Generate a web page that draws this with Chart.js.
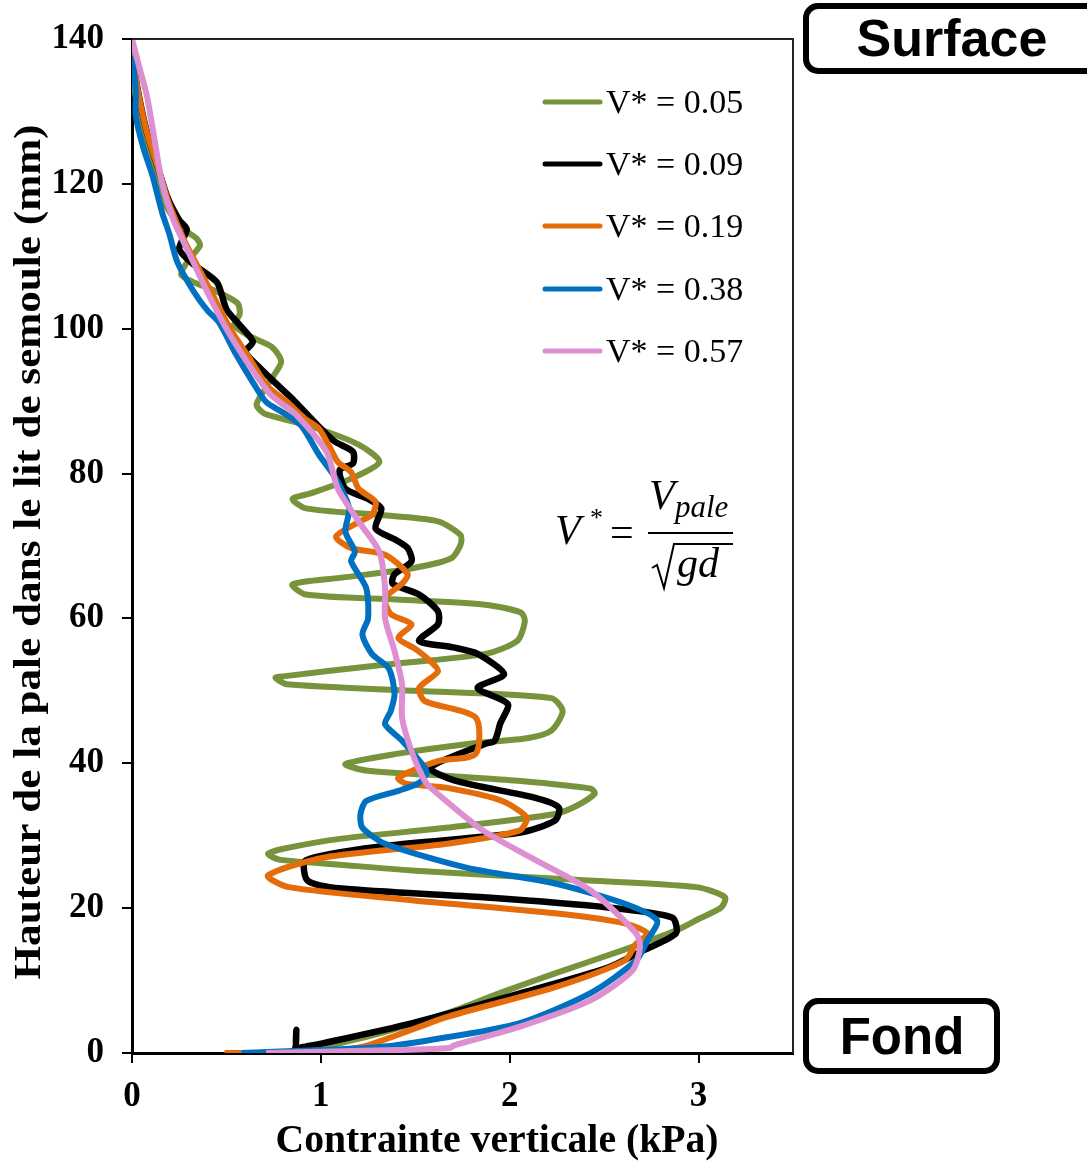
<!DOCTYPE html>
<html>
<head>
<meta charset="utf-8">
<script src="https://cdn.jsdelivr.net/npm/chart.js@4.4.1/dist/chart.umd.min.js"></script>
<style>
  html, body { margin: 0; padding: 0; background: #ffffff; }
  #wrap { width: 1087px; height: 1165px; position: relative; }
</style>
</head>
<body>
<div id="wrap"><canvas id="chart" width="1087" height="1165"></canvas></div>
<script>
// ---------- Data ----------
const seriesLabels = ['V* = 0.05', 'V* = 0.09', 'V* = 0.19', 'V* = 0.38', 'V* = 0.57'];
const xTickValues = [0, 1, 2, 3];
const yTickValues = [0, 20, 40, 60, 80, 100, 120, 140];

// V* = 0.05 : vertical stress (kPa) and blade height (mm), in path order
const stress005 = [0.00,0.02,0.06,0.12,0.18,0.26,0.34,0.36,0.30,0.26,0.32,0.46,0.56,0.57,0.54,0.62,0.74,0.79,0.75,0.70,0.66,0.70,0.95,1.20,1.31,1.16,0.95,0.85,0.92,1.30,1.62,1.74,1.74,1.69,1.48,1.10,0.85,0.92,1.40,1.87,2.06,2.08,2.04,1.87,1.30,0.80,0.76,0.82,1.50,2.22,2.28,2.22,2.10,1.79,1.40,1.13,1.24,1.70,2.04,2.43,2.45,2.36,2.24,1.70,1.11,0.80,0.72,0.78,1.10,1.48,2.30,2.99,3.14,3.12,3.00,2.88,2.60,2.24,1.95,1.67,1.35,1.11,0.95,0.90];
const height005 = [135.5,132,127,122,117,114,112.5,111.5,109.5,107.5,106.5,105,103.5,102,100.5,99,97.5,95.5,93.5,91.5,89.5,88.3,86.5,84,81.6,79.3,77.3,76.5,75.2,74.3,73.4,71.5,70.2,68.3,66.9,65.6,64.7,63.3,62.6,61.9,60.8,59.6,56.9,55.1,53.5,52.0,51.8,50.9,50.0,49.0,47.2,44.5,43.5,42.7,41.3,39.9,39.0,38.2,37.6,36.5,35.8,34.2,33.0,31.2,29.6,28.2,27.5,26.7,26.0,25.2,24.0,22.9,21.5,20.1,18.5,16.9,14.2,11.0,8.3,5.5,3.0,1.4,0.4,0];

// V* = 0.09
const stress009 = [0.00,0.03,0.08,0.14,0.19,0.25,0.29,0.25,0.32,0.45,0.50,0.57,0.64,0.60,0.68,0.78,0.85,0.97,1.07,1.17,1.17,1.10,1.13,1.25,1.32,1.29,1.40,1.46,1.48,1.39,1.38,1.52,1.62,1.62,1.52,1.70,1.83,1.97,1.83,1.99,1.95,1.92,1.87,1.58,1.71,2.14,2.26,2.24,2.05,1.34,0.92,0.93,1.11,1.86,2.52,2.86,2.88,2.71,2.52,2.05,1.48,1.02,0.90,0.87,0.87,0.86,0.77];
const height009 = [138,133,127,122,118,115,113.7,111,109,106.4,102.7,100.5,98.2,96.8,94.5,92,90.3,87,84.5,83.0,81.4,80.5,77.9,76.5,75.2,72.4,70.8,69.7,67.9,66.1,64.8,63.3,61.0,59.2,56.9,56.0,55.1,52.3,50.4,48.2,45.5,43.1,42.7,39.4,37.6,35.2,33.9,32.1,30.4,28.6,26.6,23.8,22.7,21.5,20.1,18.7,16.5,14.2,11.8,8.2,4.1,1.4,0.8,0.6,3.2,0.4,0];

// V* = 0.19
const stress019 = [0.00,0.03,0.08,0.14,0.20,0.28,0.36,0.44,0.52,0.62,0.72,0.82,0.92,0.99,1.05,1.09,1.16,1.20,1.29,1.27,1.20,1.08,1.16,1.34,1.46,1.43,1.34,1.37,1.48,1.41,1.50,1.58,1.62,1.52,1.55,1.82,1.82,1.62,1.41,1.45,1.67,1.96,2.09,2.05,1.67,1.02,0.72,0.83,1.48,2.24,2.61,2.73,2.67,2.61,2.24,1.67,1.21,0.90,0.49];
const height019 = [138.5,133,127,122,117,112,108,104,100,96,92,89.9,87.5,86.2,83.5,81.6,80.2,77.9,76.1,74.3,73.3,71.3,69.7,68.8,66.1,64.8,62.8,60.6,59.2,57.3,55.8,54.1,52.7,50.4,48.6,46.3,41.3,40.3,38.0,37.2,36.6,34.8,32.5,30.7,28.9,27.0,24.5,22.9,21.1,19.3,17.9,16.5,15.1,12.8,9.1,5.0,0.8,0.1,0];

// V* = 0.38
const stress038 = [0.00,0.02,0.02,0.06,0.11,0.16,0.20,0.24,0.33,0.40,0.46,0.55,0.64,0.71,0.82,0.90,0.99,1.08,1.15,1.13,1.18,1.16,1.24,1.25,1.22,1.27,1.36,1.39,1.37,1.34,1.43,1.55,1.56,1.52,1.41,1.24,1.21,1.22,1.34,1.77,2.24,2.61,2.78,2.73,2.67,2.43,2.05,1.58,1.30,0.58];
const height038 = [137.7,133,129.4,125,121,116,112.9,109.2,105,102.5,100.9,96.5,92.6,89.9,88.1,86.5,82.6,79.3,75.2,72.0,69.2,67.9,64.2,60.0,57.8,55.1,53.1,49.6,47.2,45.4,43.1,39.4,38.6,37.3,36.2,34.8,33.0,31.1,28.9,25.6,23.4,20.6,18.3,15.6,12.8,8.3,4.1,1.8,0.8,0];

// V* = 0.57
const stress057 = [0.00,0.04,0.08,0.12,0.16,0.22,0.31,0.40,0.50,0.62,0.73,0.78,0.87,1.03,1.09,1.20,1.31,1.34,1.34,1.39,1.43,1.43,1.48,1.55,1.60,1.86,2.14,2.43,2.67,2.69,2.65,2.43,2.05,1.71,1.68,1.40,0.71];
const height057 = [140,136,132,126,120,115,110,105,100,95,91,89.9,88.1,83.0,77.9,73.4,69.2,64.2,60.0,55.5,50.9,46.3,41.7,37.6,36.2,30.7,26.6,22.4,16.5,14.6,11.4,7.3,3.6,1.1,0.7,0.4,0];

const seriesColors = ['#77933C', '#000000', '#E46C0A', '#0070C0', '#DD8FD1'];

// ---------- Build datasets ----------
function pts(xs, ys) { return xs.map((x, i) => ({ x: x, y: ys[i] })); }
const allStress = [stress005, stress009, stress019, stress038, stress057];
const allHeight = [height005, height009, height019, height038, height057];

const datasets = seriesLabels.map((lab, i) => ({
  label: lab,
  data: pts(allStress[i], allHeight[i]),
  borderColor: seriesColors[i],
  backgroundColor: seriesColors[i],
  borderWidth: i === 1 ? 6.5 : 6,
  showLine: true,
  pointRadius: 0,
  tension: 0.25,
  fill: false,
  order: 5 - i
}));

// ---------- Decorations plugin ----------
const decor = {
  id: 'decor',
  afterDatasetsDraw(chart) {
    const ctx = chart.ctx;
    const a = chart.chartArea;
    ctx.save();
    // plot frame (top and right)
    ctx.strokeStyle = '#222';
    ctx.lineWidth = 2;
    ctx.beginPath();
    ctx.moveTo(a.left, a.top);
    ctx.lineTo(a.right, a.top);
    ctx.lineTo(a.right, a.bottom);
    ctx.stroke();

    // legend
    const legY = [102, 164, 226, 289, 351];
    chart.data.datasets.forEach((ds, i) => {
      ctx.strokeStyle = ds.borderColor;
      ctx.lineWidth = 5;
      ctx.lineCap = 'round';
      ctx.beginPath();
      ctx.moveTo(545, legY[i]);
      ctx.lineTo(600, legY[i]);
      ctx.stroke();
      ctx.fillStyle = '#000';
      ctx.font = '34px "Liberation Serif", "Times New Roman", serif';
      ctx.textAlign = 'left';
      ctx.textBaseline = 'middle';
      ctx.fillText(ds.label, 606, legY[i] + 2);
    });
    ctx.restore();
  },
  afterDraw(chart) {
    const ctx = chart.ctx;
    ctx.save();
    ctx.fillStyle = '#000';
    // y axis title
    ctx.save();
    ctx.translate(30, 552);
    ctx.rotate(-Math.PI / 2);
    ctx.font = 'bold 38px "Liberation Serif", "Times New Roman", serif';
    const yt = 'Hauteur de la pale dans le lit de semoule (mm)';
    const yw = ctx.measureText(yt).width;
    ctx.scale(855 / yw, 1);
    ctx.textAlign = 'center';
    ctx.textBaseline = 'middle';
    ctx.fillText(yt, 0, 0);
    ctx.restore();

    // x axis title
    ctx.save();
    ctx.translate(497, 1142);
    ctx.font = 'bold 40px "Liberation Serif", "Times New Roman", serif';
    const xt = 'Contrainte verticale (kPa)';
    const xw = ctx.measureText(xt).width;
    ctx.scale(443 / xw, 1);
    ctx.textAlign = 'center';
    ctx.textBaseline = 'middle';
    ctx.fillText(xt, 0, 0);
    ctx.restore();

    // formula V* = V_pale / sqrt(gd)
    ctx.textAlign = 'left';
    ctx.textBaseline = 'alphabetic';
    ctx.font = 'italic 42px "Liberation Serif", "Times New Roman", serif';
    ctx.fillText('V', 555, 544);
    ctx.font = '26px "Liberation Serif", serif';
    ctx.fillText('*', 590, 526);
    ctx.font = '42px "Liberation Serif", serif';
    ctx.fillText('=', 610, 546);
    ctx.font = 'italic 42px "Liberation Serif", serif';
    ctx.fillText('V', 649, 509);
    ctx.font = 'italic 31px "Liberation Serif", serif';
    ctx.fillText('pale', 675, 517);
    ctx.strokeStyle = '#000';
    ctx.lineWidth = 2;
    ctx.beginPath();
    ctx.moveTo(648, 533); ctx.lineTo(733, 533);
    ctx.stroke();
    // square root sign
    ctx.lineWidth = 2;
    ctx.beginPath();
    ctx.moveTo(652, 568);
    ctx.lineTo(657, 565);
    ctx.lineTo(664, 588);
    ctx.lineTo(674, 544);
    ctx.lineTo(733, 544);
    ctx.stroke();
    ctx.font = 'italic 42px "Liberation Serif", serif';
    ctx.fillText('gd', 677, 577);

    // "Surface" box
    ctx.lineWidth = 6;
    ctx.strokeStyle = '#000';
    ctx.beginPath();
    ctx.roundRect(806, 6, 300, 65, 12);
    ctx.stroke();
    ctx.font = 'bold 52px "Liberation Sans", Arial, sans-serif';
    ctx.textAlign = 'center';
    ctx.textBaseline = 'middle';
    ctx.fillText('Surface', 952, 42);

    // "Fond" box
    ctx.beginPath();
    ctx.roundRect(806, 1001, 191, 70, 12);
    ctx.stroke();
    ctx.font = 'bold 51px "Liberation Sans", Arial, sans-serif';
    ctx.fillText('Fond', 902, 1040);
    ctx.restore();
  }
};

new Chart(document.getElementById('chart'), {
  type: 'scatter',
  data: { datasets: datasets },
  plugins: [decor],
  options: {
    responsive: false,
    animation: false,
    events: [],
    layout: { padding: { left: 0, top: 36, right: 294, bottom: 0 } },
    plugins: {
      legend: { display: false },
      tooltip: { enabled: false },
      title: { display: false }
    },
    scales: {
      x: {
        type: 'linear',
        position: 'bottom',
        min: 0,
        max: 3.5,
        afterFit(scale) { scale.height = 112; },
        afterBuildTicks(scale) { scale.ticks = xTickValues.map(v => ({ value: v })); },
        ticks: {
          color: '#000',
          padding: 13,
          font: { family: '"Liberation Serif", "Times New Roman", serif', size: 35, weight: 'bold' },
          callback: v => String(v)
        },
        grid: { display: true, drawOnChartArea: false, drawTicks: true, tickLength: 10, color: '#000', lineWidth: 2 },
        border: { display: true, color: '#000', width: 3 }
      },
      y: {
        type: 'linear',
        min: 0,
        max: 140,
        afterFit(scale) { scale.width = 132; },
        afterBuildTicks(scale) { scale.ticks = yTickValues.map(v => ({ value: v })); },
        ticks: {
          color: '#000',
          padding: 18,
          font: { family: '"Liberation Serif", "Times New Roman", serif', size: 35, weight: 'bold' },
          callback: v => String(v)
        },
        grid: { display: true, drawOnChartArea: false, drawTicks: true, tickLength: 10, color: '#000', lineWidth: 2 },
        border: { display: true, color: '#000', width: 3 }
      }
    }
  }
});
</script>
</body>
</html>
